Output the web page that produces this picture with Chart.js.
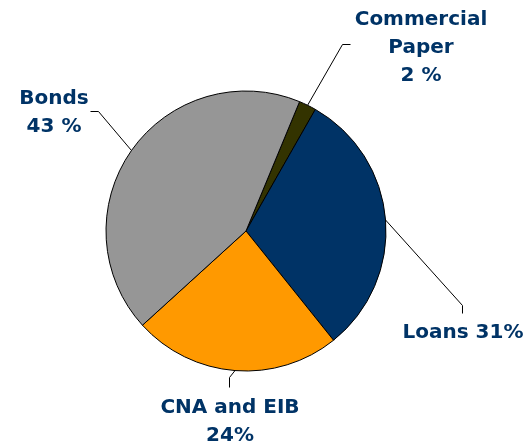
<!DOCTYPE html>
<html>
<head>
<meta charset="utf-8">
<title>Funding sources</title>
<script src="https://cdn.jsdelivr.net/npm/chart.js@4/dist/chart.umd.min.js"></script>
<style>
  html, body { margin: 0; padding: 0; background: #fff; }
  #wrap { width: 529px; height: 447px; position: relative; }
</style>
</head>
<body>
<div id="wrap"><canvas id="funding"></canvas></div>
<script>
// funding mix, clockwise from the top
const categories = ['Commercial Paper', 'Loans', 'CNA and EIB', 'Bonds'];
const shares = [2, 31, 24, 43];
const sliceColors = ['#333300', '#003366', '#FF9900', '#969696'];

// label text per slice (same order as categories)
const labelLines = [
  ['Commercial', 'Paper', '2 %'],
  ['Loans 31%'],
  ['CNA and EIB', '24%'],
  ['Bonds', '43 %']
];

// where each callout sits: text centre / first baseline, and the leader bend + end
const callouts = [
  { x: 421, y: 25, bend: [342, 44], end: [350, 44] },
  { x: 463, y: 338, bend: [462, 305], end: [462, 313] },
  { x: 230, y: 413, bend: [229, 377], end: [229, 387] },
  { x: 54, y: 104, bend: [98, 111], end: [90, 111] }
];

const TEXT_COLOR = '#003366';
const LINE_HEIGHT = 28;

// draws the leader lines and the bold callout text
const calloutPlugin = {
  id: 'callouts',
  afterDatasetsDraw(chart) {
    const ctx = chart.ctx;
    const arcs = chart.getDatasetMeta(0).data;
    ctx.save();
    arcs.forEach((arc, i) => {
      const c = callouts[i];
      const mid = (arc.startAngle + arc.endAngle) / 2;
      const sx = arc.x + Math.cos(mid) * arc.outerRadius;
      const sy = arc.y + Math.sin(mid) * arc.outerRadius;

      ctx.strokeStyle = '#000';
      ctx.lineWidth = 1;
      ctx.beginPath();
      ctx.moveTo(sx, sy);
      ctx.lineTo(c.bend[0] + 0.5, c.bend[1] + 0.5);
      ctx.lineTo(c.end[0] + 0.5, c.end[1] + 0.5);
      ctx.stroke();

      ctx.fillStyle = TEXT_COLOR;
      ctx.font = 'bold 20px "DejaVu Sans", Verdana, sans-serif';
      ctx.textAlign = 'center';
      ctx.textBaseline = 'alphabetic';
      labelLines[i].forEach((line, k) => {
        ctx.fillText(line, c.x, c.y + k * LINE_HEIGHT);
      });
    });
    ctx.restore();
  }
};

new Chart(document.getElementById('funding'), {
  type: 'pie',
  data: {
    labels: categories,
    datasets: [{
      data: shares,
      backgroundColor: sliceColors,
      borderColor: '#000000',
      borderWidth: 1
    }]
  },
  options: {
    responsive: true,
    maintainAspectRatio: false,
    animation: false,
    rotation: 22.5,
    radius: 140,
    layout: { padding: { left: 0, right: 37, top: 15, bottom: 0 } },
    plugins: {
      legend: { display: false },
      tooltip: { enabled: false }
    }
  },
  plugins: [calloutPlugin]
});
</script>
</body>
</html>
